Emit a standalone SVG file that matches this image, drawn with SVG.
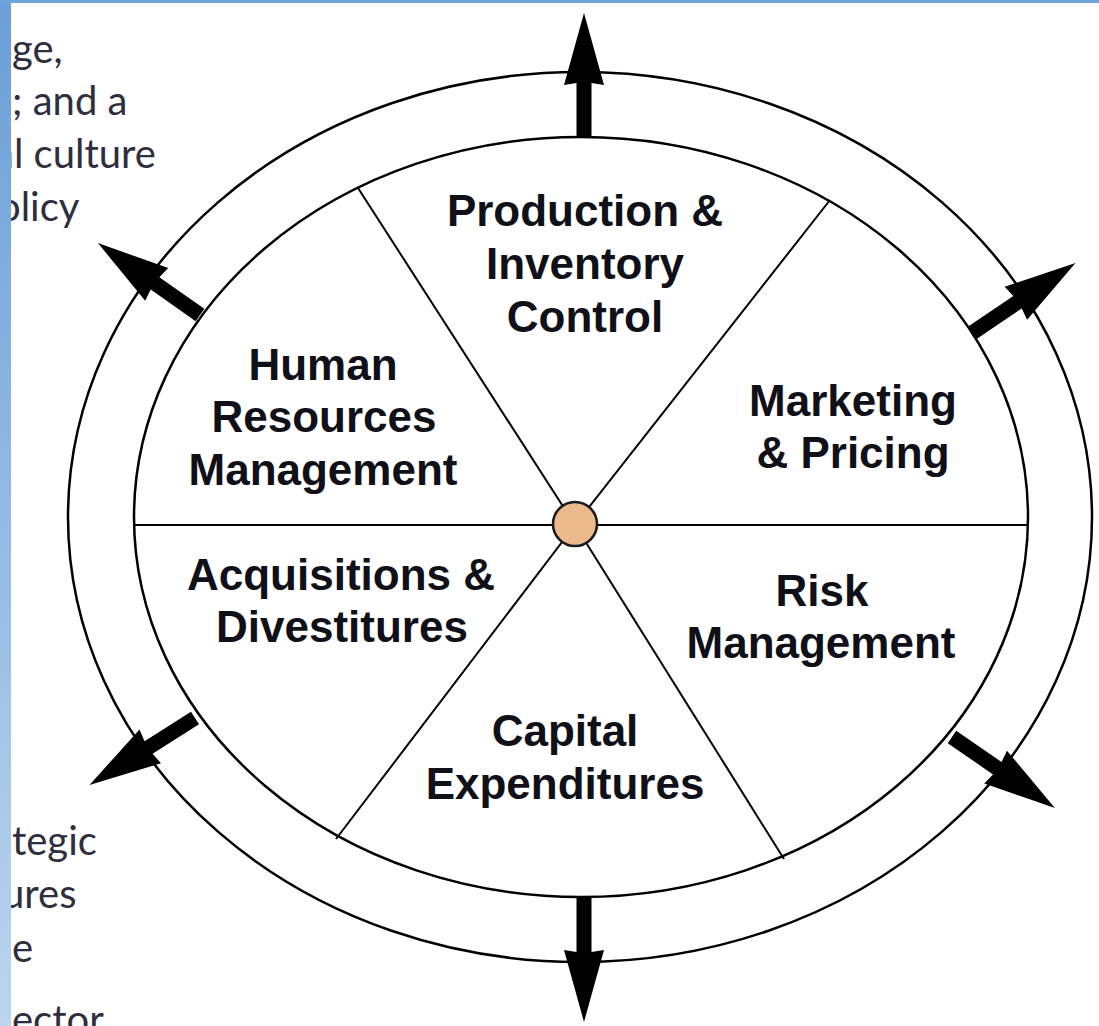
<svg xmlns="http://www.w3.org/2000/svg" xmlns:xlink="http://www.w3.org/1999/xlink" width="1099" height="1026" viewBox="0 0 1099 1026">
<defs>
<linearGradient id="strip" x1="0" y1="0" x2="0" y2="1">
<stop offset="0" stop-color="#6a9fd8"/>
<stop offset="1" stop-color="#bad5ee"/>
</linearGradient>
<path id="arr" d="M-7.5,0 L-7.5,-55 L-20,-53 L0,-125 L20,-53 L7.5,-55 L7.5,0 Z" fill="#000"/>
</defs>
<style>
.bg{font-family:Lato,"Open Sans","DejaVu Sans",sans-serif;font-size:40px;fill:#2e2e3e}
.lbl{font-family:"Liberation Sans",Arial,sans-serif;font-weight:bold;font-size:44px;fill:#101018;text-anchor:middle}
.ring{fill:none;stroke:#000;stroke-width:2.5}
.spoke{stroke:#000;stroke-width:2;fill:none}
</style>
<rect width="1099" height="1026" fill="#fff"/>
<g id="background-text">
<text class="bg" x="12" y="63">ge,</text>
<text class="bg" x="12" y="115">; and a</text>
<text class="bg" x="-6" y="168">al culture</text>
<text class="bg" x="-2" y="221">olicy</text>
<text class="bg" x="12" y="855">tegic</text>
<text class="bg" x="2" y="908">ures</text>
<text class="bg" x="12" y="962">e</text>
<text class="bg" x="12" y="1034">ector</text>
</g>
<rect x="0" y="0" width="11" height="1026" fill="url(#strip)"/>
<rect x="0" y="0" width="1099" height="3" fill="#6fa3dc"/>
<g id="rings">
<ellipse class="ring" cx="580" cy="517" rx="512" ry="445"/>
<ellipse class="ring" cx="581" cy="517" rx="447" ry="380"/>
</g>
<g id="connectors">
<line class="spoke" x1="135" y1="525" x2="1028" y2="525"/>
<line class="spoke" x1="575" y1="525" x2="358" y2="188"/>
<line class="spoke" x1="575" y1="525" x2="830" y2="200"/>
<line class="spoke" x1="575" y1="525" x2="336" y2="839"/>
<line class="spoke" x1="575" y1="525" x2="784" y2="859"/>
<use xlink:href="#arr" href="#arr" transform="translate(584,138)"/>
<use xlink:href="#arr" href="#arr" transform="translate(584,897) rotate(180)"/>
<use xlink:href="#arr" href="#arr" transform="translate(972,333) rotate(55.9)"/>
<use xlink:href="#arr" href="#arr" transform="translate(200,315) rotate(-54.8)"/>
<use xlink:href="#arr" href="#arr" transform="translate(195,718) rotate(-122.4)"/>
<use xlink:href="#arr" href="#arr" transform="translate(952,737) rotate(124.6)"/>
</g>
<g id="hub">
<circle cx="575" cy="524" r="22" fill="#ebb98b" stroke="#1a1a1a" stroke-width="2.5"/>
</g>
<g id="production">
<text class="lbl" x="585" y="226">Production &amp;</text>
<text class="lbl" x="585" y="279">Inventory</text>
<text class="lbl" x="585" y="332">Control</text>
</g>
<g id="hr">
<text class="lbl" x="323" y="380">Human</text>
<text class="lbl" x="324" y="432">Resources</text>
<text class="lbl" x="323" y="485">Management</text>
</g>
<g id="marketing">
<text class="lbl" x="853" y="416">Marketing</text>
<text class="lbl" x="853" y="468">&amp; Pricing</text>
</g>
<g id="acquisitions">
<text class="lbl" x="341" y="590">Acquisitions &amp;</text>
<text class="lbl" x="342" y="642">Divestitures</text>
</g>
<g id="risk">
<text class="lbl" x="822" y="606">Risk</text>
<text class="lbl" x="821" y="658">Management</text>
</g>
<g id="capex">
<text class="lbl" x="565" y="746">Capital</text>
<text class="lbl" x="565" y="799">Expenditures</text>
</g>
</svg>
